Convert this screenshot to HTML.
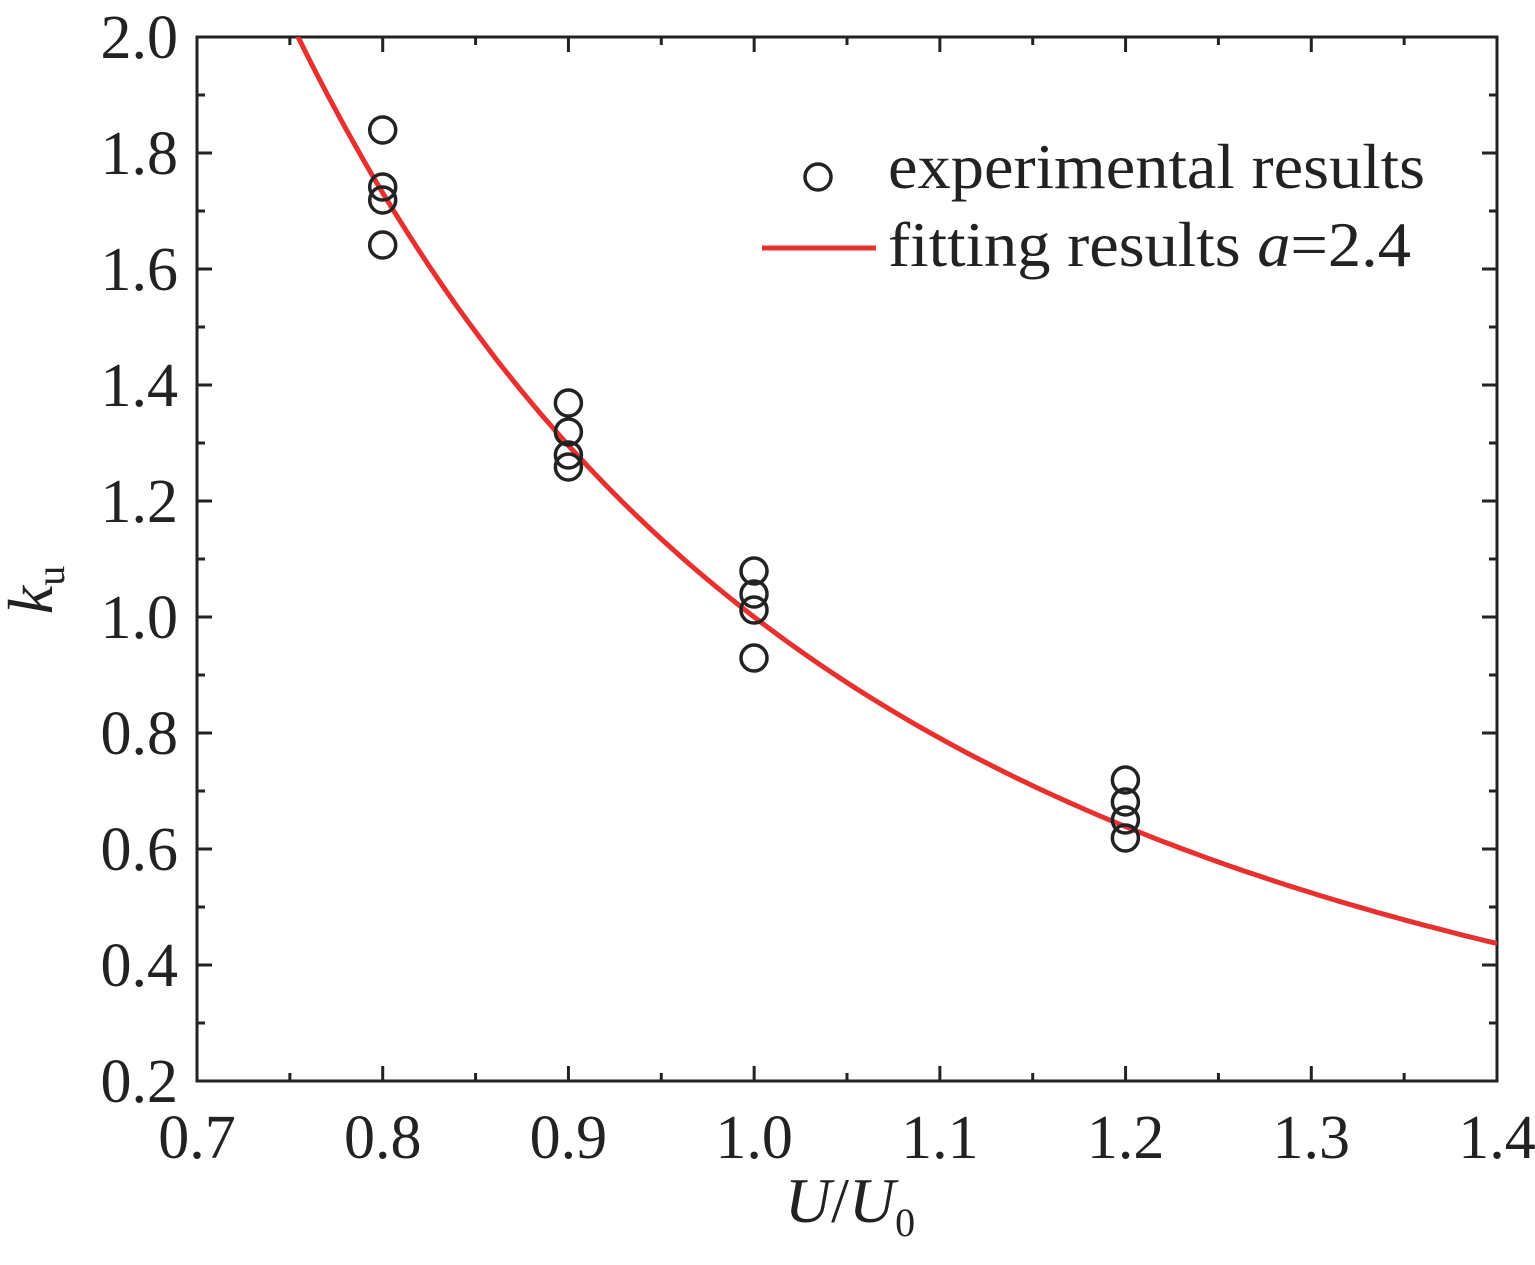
<!DOCTYPE html>
<html><head><meta charset="utf-8"><style>
html,body{margin:0;padding:0;background:#fff;}
svg text{font-family:"Liberation Serif",serif;fill:#222;}
</style></head><body>
<svg id="s" width="1535" height="1260" xmlns="http://www.w3.org/2000/svg">
<defs><clipPath id="c"><rect x="197" y="37" width="1300" height="1044"/></clipPath></defs>
<g id="ticks" stroke="#222" stroke-width="3"></g>
<rect x="197" y="37" width="1300" height="1044" fill="none" stroke="#222" stroke-width="3"/>
<path id="curve" fill="none" stroke="#e8312f" stroke-width="5" clip-path="url(#c)"/>
<g id="pts" fill="none" stroke="#222" stroke-width="3.5"></g>
<g font-size="62" text-anchor="end" id="ylab"></g>
<g font-size="62" text-anchor="middle" id="xlab"></g>
<text x="850" y="1222" font-size="64" text-anchor="middle"><tspan font-style="italic">U</tspan>/<tspan font-style="italic">U</tspan><tspan font-size="40" dy="14">0</tspan></text>
<text transform="translate(52,590) rotate(-90)" font-size="64" text-anchor="middle"><tspan font-style="italic">k</tspan><tspan font-size="40" dy="12">u</tspan></text>
<circle cx="818" cy="177" r="13" fill="none" stroke="#222" stroke-width="3.5"/>
<text x="888" y="188" font-size="64" textLength="537" lengthAdjust="spacingAndGlyphs">experimental results</text>
<line x1="762" y1="248" x2="876" y2="248" stroke="#e8312f" stroke-width="5"/>
<text x="888" y="266" font-size="64" textLength="523" lengthAdjust="spacingAndGlyphs">fitting results <tspan font-style="italic">a</tspan>=2.4</text>
</svg>
<script>
var X=function(u){return 197+(u-0.7)*1300/0.7;},Y=function(k){return 1081-(k-0.2)*580;};
var ns="http://www.w3.org/2000/svg";
function el(p,t,a,txt){var e=document.createElementNS(ns,t);for(var k in a)e.setAttribute(k,a[k]);if(txt)e.textContent=txt;document.getElementById(p).appendChild(e);}
for(var i=0;i<=14;i++){var x=X(0.7+i*0.05),L=i%2?8:15;
el("ticks","line",{x1:x,y1:1081,x2:x,y2:1081-L});el("ticks","line",{x1:x,y1:37,x2:x,y2:37+L});
if(i%2==0)el("xlab","text",{x:x,y:1158},(0.7+i*0.05).toFixed(1));}
for(var i=0;i<=18;i++){var y=Y(0.2+i*0.1),L=i%2?8:15;
el("ticks","line",{x1:197,y1:y,x2:197+L,y2:y});el("ticks","line",{x1:1497,y1:y,x2:1497-L,y2:y});
if(i%2==0)el("ylab","text",{x:178,y:y+21},(0.2+i*0.1).toFixed(1));}
var d="";for(var u=0.75;u<=1.4001;u+=0.005){var k=Math.pow(u,-2.46);d+=(d?"L":"M")+X(u).toFixed(1)+","+Y(k).toFixed(1);}
document.getElementById("curve").setAttribute("d",d);
var pts=[[382.7,[130,187,200,245]],[568.4,[403,432,455,467]],[754,[571,594,610,658]],[1125.4,[780,802,820,838]]];
pts.forEach(function(p){p[1].forEach(function(y){el("pts","circle",{cx:p[0],cy:y,r:13});});});
</script>
</body></html>
